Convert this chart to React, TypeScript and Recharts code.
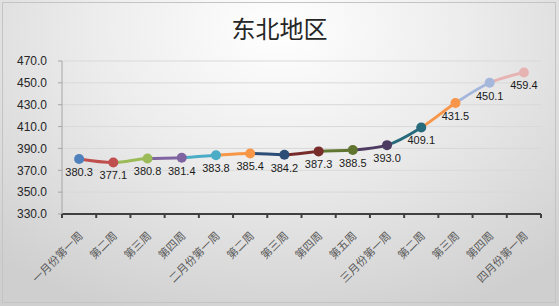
import { CartesianGrid, LabelList, Line, LineChart, XAxis, YAxis } from "recharts";

// weekly price index, 东北地区
const weeks = [
    "一月份第一周",
    "第二周",
    "第三周",
    "第四周",
    "二月份第一周",
    "第二周",
    "第三周",
    "第四周",
    "第五周",
    "三月份第一周",
    "第二周",
    "第三周",
    "第四周",
    "四月份第一周",
];
const prices = [380.3, 377.1, 380.8, 381.4, 383.8, 385.4, 384.2, 387.3, 388.5, 393.0, 409.1, 431.5, 450.1, 459.4];
const yTicks = [330, 350, 370, 390, 410, 430, 450, 470];

// Excel "vary colors by point"
const pointColors = [
    "#4F81BD",
    "#C0504D",
    "#9BBB59",
    "#8064A2",
    "#4BACC6",
    "#F79646",
    "#2C4D75",
    "#772C2A",
    "#5F7530",
    "#4D3B62",
    "#276A7C",
    "#F7964A",
    "#A5B8DC",
    "#E6B3B2",
];

const data = weeks.map((name, i) => ({ name, value: prices[i] }));

const W = 559;
const H = 306;
const PLOT_W = 479;
const BAND = PLOT_W / weeks.length;

function WeekTick({ x, y, payload, index }: any) {
    const half = BAND / 2;
    return (
        <g>
            <line x1={x - half} x2={x - half} y1={y} y2={y + 4} stroke="#404040" strokeWidth={2} />
            {index === weeks.length - 1 && (
                <line x1={x + half} x2={x + half} y1={y} y2={y + 4} stroke="#404040" strokeWidth={2} />
            )}
            <text
                transform={`translate(${x + 1},${y + 19}) rotate(-45)`}
                textAnchor="end"
                dominantBaseline="central"
                fontSize={11}
                fill="#595959"
                fontFamily="'Noto Sans CJK SC'"
            >
                {payload.value}
            </text>
        </g>
    );
}

export default function App() {
    return (
        <div
            style={{
                position: "absolute",
                left: 0,
                top: 0,
                width: W,
                height: H,
                overflow: "hidden",
                background:
                    "radial-gradient(ellipse 75% 100% at 50% 10%, #ffffff 0%, #ececec 45%, #cfcfcf 100%)",
            }}
        >
            <div
                style={{
                    position: "absolute",
                    left: 2,
                    top: 2,
                    right: 3,
                    bottom: 3,
                    border: "1px solid #c4c4c4",
                }}
            />
            <div
                style={{
                    position: "absolute",
                    top: 12,
                    left: 0,
                    width: W,
                    textAlign: "center",
                    fontSize: 24,
                    lineHeight: "32px",
                    fontFamily: "'Noto Sans CJK SC'",
                    color: "#262626",
                }}
            >
                东北地区
            </div>
            <LineChart
                width={W}
                height={H}
                data={data}
                margin={{ top: 61, right: 18, bottom: 12, left: 12 }}
                style={{ position: "absolute", left: 0, top: 0 }}
            >
                <defs>
                    <linearGradient id="segs" x1="0" y1="0" x2="1" y2="0">
                        {pointColors.slice(1).flatMap((c, k) => [
                            <stop key={`a${k}`} offset={k / 13} stopColor={c} />,
                            <stop key={`b${k}`} offset={(k + 1) / 13} stopColor={c} />,
                        ])}
                    </linearGradient>
                </defs>
                <CartesianGrid vertical={false} stroke="#d9d9d9" />
                <XAxis
                    dataKey="name"
                    height={80}
                    interval={0}
                    padding={{ left: BAND / 2, right: BAND / 2 }}
                    tickLine={false}
                    tickSize={0}
                    tickMargin={0}
                    axisLine={{ stroke: "#404040", strokeWidth: 2 }}
                    tick={<WeekTick />}
                />
                <YAxis
                    width={50}
                    domain={[330, 470]}
                    ticks={yTicks}
                    interval={0}
                    tickFormatter={(v: number) => v.toFixed(1)}
                    tickSize={4}
                    tickMargin={11}
                    axisLine={{ stroke: "#a6a6a6" }}
                    tickLine={{ stroke: "#a6a6a6" }}
                    tick={{ fontSize: 12, fill: "#262626", fontFamily: "'Liberation Sans'" }}
                />
                <Line
                    type="monotone"
                    dataKey="value"
                    stroke="url(#segs)"
                    strokeWidth={3}
                    isAnimationActive={false}
                    dot={(p: any) => (
                        <circle key={`dot-${p.index}`} cx={p.cx} cy={p.cy} r={5} fill={pointColors[p.index]} />
                    )}
                    activeDot={false}
                >
                    <LabelList
                        dataKey="value"
                        position="bottom"
                        offset={9}
                        fontSize={11}
                        fill="#1a1a1a"
                        fontFamily="'Liberation Sans'"
                        formatter={(v: any) => Number(v).toFixed(1)}
                    />
                </Line>
            </LineChart>
        </div>
    );
}
